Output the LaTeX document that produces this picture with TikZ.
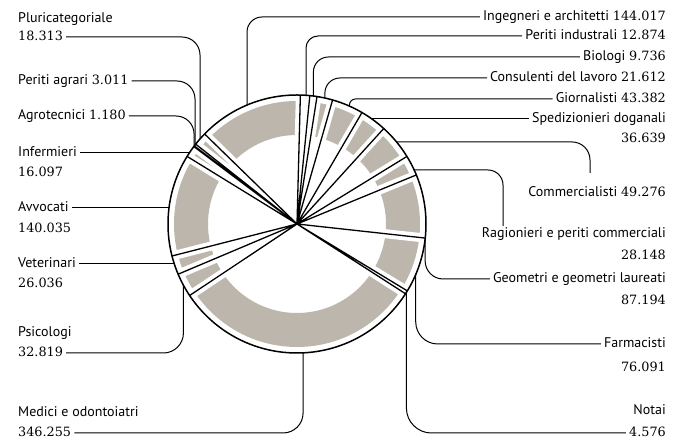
\documentclass[tikz,border=0pt]{standalone}
\usepackage{fontspec}
\setmainfont{PT Sans}
\newfontfamily\numfont{DejaVu Serif}
\usetikzlibrary{calc}

\definecolor{ringgrey}{RGB}{189,182,172}
\newcommand{\cifra}[1]{{\numfont\fontsize{12.8}{14}\selectfont #1}}

\begin{document}
\begin{tikzpicture}[x=1pt, y=1pt,
    lbl/.style={font=\fontsize{14}{15}\selectfont, inner xsep=3pt, inner ysep=0pt,
                text height=10pt, text depth=2pt},
    leader/.style={line width=1pt},
    spoke/.style={line width=1.3pt},
    gap/.style={white, line width=9pt}]

    \useasboundingbox (0,0) rectangle (673,441);
    \coordinate (c) at (297,217);

    % grey ring, cut into slices by white gaps
    \fill[ringgrey, even odd rule] (c) circle (123) (c) circle (89);
    \draw[gap] (c) -- ++(88.5:127) (c) -- ++(135.75:127) (c) -- ++(141.76:127)
        (c) -- ++(142.75:127) (c) -- ++(143.13:127) (c) -- ++(148.41:127)
        (c) -- ++(194.36:127) (c) -- ++(202.9:127) (c) -- ++(213.67:127)
        (c) -- ++(327.27:127) (c) -- ++(328.77:127) (c) -- ++(353.73:127)
        (c) -- ++(22.34:127) (c) -- ++(31.57:127) (c) -- ++(47.74:127)
        (c) -- ++(59.76:127) (c) -- ++(73.99:127) (c) -- ++(81.08:127)
        (c) -- ++(84.28:127);
    \draw[spoke] (c) -- ++(88.5:129) (c) -- ++(135.75:129) (c) -- ++(141.76:129)
        (c) -- ++(142.75:129) (c) -- ++(143.13:129) (c) -- ++(148.41:129)
        (c) -- ++(194.36:129) (c) -- ++(202.9:129) (c) -- ++(213.67:129)
        (c) -- ++(327.27:129) (c) -- ++(328.77:129) (c) -- ++(353.73:129)
        (c) -- ++(22.34:129) (c) -- ++(31.57:129) (c) -- ++(47.74:129)
        (c) -- ++(59.76:129) (c) -- ++(73.99:129) (c) -- ++(81.08:129)
        (c) -- ++(84.28:129);
    \draw[line width=1.5pt] (c) circle (129);

    % points on the rim
    \coordinate (c-pluri) at ($(c)+(138.75:129)$);
    \coordinate (c-pa)    at ($(c)+(142.25:129)$);
    \coordinate (c-agro)  at ($(c)+(142.94:129)$);
    \coordinate (c-inf)   at ($(c)+(146.6:129)$);
    \coordinate (c-avv)   at ($(c)+(172.9:129)$);
    \coordinate (c-vet)   at ($(c)+(198.1:129)$);
    \coordinate (c-psi)   at ($(c)+(208.3:129)$);
    \coordinate (c-med)   at ($(c)+(272.7:129)$);
    \coordinate (c-ing)   at ($(c)+(112.8:129)$);
    \coordinate (c-pi)    at ($(c)+(86:129)$);
    \coordinate (c-bio)   at ($(c)+(82.7:129)$);
    \coordinate (c-cons)  at ($(c)+(77.5:129)$);
    \coordinate (c-giorn) at ($(c)+(66:129)$);
    \coordinate (c-sped)  at ($(c)+(54.5:129)$);
    \coordinate (c-comm)  at ($(c)+(39.5:129)$);
    \coordinate (c-rag)   at ($(c)+(24.75:129)$);
    \coordinate (c-geo)   at ($(c)+(-6.5:129)$);
    \coordinate (c-farm)  at ($(c)+(-23:129)$);
    \coordinate (c-notai) at ($(c)+(328:129)$);
    \coordinate (e-comm)  at (590,268);
    \coordinate (e-rag)   at (503,215);

    % left labels
    \node[lbl, anchor=base west] (pluri)   at (15,418) {Pluricategoriale};
    \node[lbl, anchor=base west] (pluri-n) at (15,400) {\cifra{18.313}};
    \node[lbl, anchor=base west] (pa)      at (15,356) {Periti agrari \cifra{3.011}};
    \node[lbl, anchor=base west] (agro)    at (15,321) {Agrotecnici \cifra{1.180}};
    \node[lbl, anchor=base west] (inf)     at (15,284) {Infermieri};
    \node[lbl, anchor=base west] (inf-n)   at (15,264) {\cifra{16.097}};
    \node[lbl, anchor=base west] (avv)     at (15,229) {Avvocati};
    \node[lbl, anchor=base west] (avv-n)   at (15,208) {\cifra{140.035}};
    \node[lbl, anchor=base west] (vet)     at (15,173) {Veterinari};
    \node[lbl, anchor=base west] (vet-n)   at (15,153) {\cifra{26.036}};
    \node[lbl, anchor=base west] (psi)     at (15,104) {Psicologi};
    \node[lbl, anchor=base west] (psi-n)   at (15,84)  {\cifra{32.819}};
    \node[lbl, anchor=base west] (med)     at (15,24)  {Medici e odontoiatri};
    \node[lbl, anchor=base west] (med-n)   at (15,4)   {\cifra{346.255}};

    % right labels
    \node[lbl, anchor=base east] (ing)     at (669,420) {Ingegneri e architetti \cifra{144.017}};
    \node[lbl, anchor=base east] (pi)      at (669,401) {Periti industrali \cifra{12.874}};
    \node[lbl, anchor=base east] (bio)     at (669,380) {Biologi \cifra{9.736}};
    \node[lbl, anchor=base east] (cons)    at (669,359) {Consulenti del lavoro \cifra{21.612}};
    \node[lbl, anchor=base east] (giorn)   at (669,338) {Giornalisti \cifra{43.382}};
    \node[lbl, anchor=base east] (sped)    at (669,318) {Spedizionieri doganali};
    \node[lbl, anchor=base east] (sped-n)  at (669,298) {\cifra{36.639}};
    \node[lbl, anchor=base east] (comm)    at (669,244) {Commercialisti \cifra{49.276}};
    \node[lbl, anchor=base east] (rag)     at (669,203) {Ragionieri e periti commerciali};
    \node[lbl, anchor=base east] (rag-n)   at (669,181) {\cifra{28.148}};
    \node[lbl, anchor=base east] (geo)     at (669,158) {Geometri e geometri laureati};
    \node[lbl, anchor=base east] (geo-n)   at (669,136) {\cifra{87.194}};
    \node[lbl, anchor=base east] (farm)    at (669,93)  {Farmacisti};
    \node[lbl, anchor=base east] (farm-n)  at (669,69)  {\cifra{76.091}};
    \node[lbl, anchor=base east] (notai)   at (669,26)  {Notai};
    \node[lbl, anchor=base east] (notai-n) at (669,4)   {\cifra{4.576}};

    % leaders
    \draw[leader, rounded corners=18pt] (c-pluri) |- (pluri-n.east);
    \draw[leader, rounded corners=18pt] (c-pa) |- (pa.east);
    \draw[leader, rounded corners=18pt] (c-agro) |- (agro.east);
    \draw[leader] (inf.east) -- (inf.east -| c-inf);
    \draw[leader] (avv.east) -- (avv.east -| c-avv);
    \draw[leader] (vet.east) -- (vet.east -| c-vet);
    \draw[leader, rounded corners=20pt] (c-psi) |- (psi-n.east);
    \draw[leader, rounded corners=20pt] (c-med) |- (med-n.east);
    \draw[leader, rounded corners=15pt] (c-ing) |- (ing.west);
    \draw[leader, rounded corners=12pt] (c-pi) |- (pi.west);
    \draw[leader, rounded corners=15pt] (c-bio) |- (bio.west);
    \draw[leader, rounded corners=15pt] (c-cons) |- (cons.west);
    \draw[leader, rounded corners=6pt] (c-giorn) |- (giorn.west);
    \draw[leader] (sped.west) -- (sped.west -| c-sped);
    \draw[leader, rounded corners=18pt] (c-comm) -| (e-comm);
    \draw[leader, rounded corners=15pt] (c-rag) -| (e-rag);
    \draw[leader, rounded corners=18pt] (c-geo) |- (geo.west);
    \draw[leader, rounded corners=22pt] (c-farm) |- (farm.west);
    \draw[leader, rounded corners=25pt] (c-notai) |- (notai-n.west);
\end{tikzpicture}
\end{document}
